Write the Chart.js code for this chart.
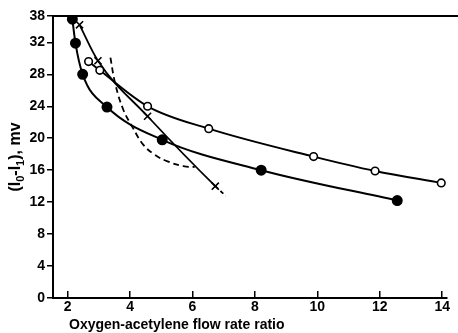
<!DOCTYPE html>
<html>
<head>
<meta charset="utf-8">
<title>Flow rate ratio</title>
<script src="https://cdn.jsdelivr.net/npm/chart.js@4.4.1/dist/chart.umd.min.js"></script>
<style>
  html, body { margin: 0; padding: 0; background: #fff; }
  canvas { display: block; }
</style>
</head>
<body>
<canvas id="myChart" width="458" height="333"></canvas>
<script>
// filled circles
const filledX = [2.15, 2.25, 2.48, 3.26, 5.03, 8.2, 12.56];
const filledY = [34.9, 31.9, 28.0, 23.9, 19.8, 16.0, 12.2];

// open circles
const openX = [2.67, 3.03, 4.56, 6.52, 9.88, 11.85, 13.97];
const openY = [29.6, 28.5, 24.0, 21.2, 17.7, 15.9, 14.4];

// crosses (last point is the end of the dashed tail, no marker)
const crossX = [2.38, 2.97, 4.56, 6.73, 7.06];
const crossY = [34.2, 29.7, 22.75, 14.0, 12.8];

// dashed curve, no markers
const dashX = [3.37, 3.52, 3.78, 4.09, 4.42, 4.8, 5.2, 5.71, 6.07];
const dashY = [30.1, 26.9, 23.6, 21.3, 19.2, 17.9, 17.1, 16.5, 16.4];

const xTickValues = [2, 4, 6, 8, 10, 12, 14];
const yTickValues = [0, 4, 8, 12, 16, 20, 24, 28, 32, 35.3];
const yTickLabels = ['0', '4', '8', '12', '16', '20', '24', '28', '32', '38'];

const xTitle = 'Oxygen-acetylene flow rate ratio';
// y title pieces: [text, subscript?]
const yTitleParts = [['(I', false], ['0', true], ['-I', false], ['1', true], ['), mv', false]];

const pts = (xs, ys) => xs.map((x, i) => ({x: x, y: ys[i]}));

const fontFamily = '"Liberation Sans", Arial, sans-serif';
const tickFont = {family: fontFamily, size: 14, weight: 'bold'};

// top frame line + both axis titles
const frameAndTitles = {
  id: 'frameAndTitles',
  beforeDatasetsDraw(chart) {
    const {ctx, chartArea} = chart;
    ctx.save();
    ctx.strokeStyle = '#000';
    ctx.lineWidth = 2;
    ctx.beginPath();
    ctx.moveTo(chartArea.left, chartArea.top);
    ctx.lineTo(chart.width, chartArea.top);
    ctx.stroke();
    ctx.restore();
  },
  afterDraw(chart) {
    const {ctx, chartArea} = chart;
    ctx.save();
    ctx.fillStyle = '#000';
    ctx.textBaseline = 'alphabetic';
    ctx.textAlign = 'left';

    ctx.font = 'bold 14px ' + fontFamily;
    ctx.fillText(xTitle, chartArea.left + 16, chart.height - 4);

    // rotated y title with subscripts
    const big = 'bold 16px ' + fontFamily;
    const small = 'bold 11px ' + fontFamily;
    let total = 0;
    yTitleParts.forEach(([t, sub]) => {
      ctx.font = sub ? small : big;
      total += ctx.measureText(t).width;
    });
    ctx.translate(20, (chartArea.top + chartArea.bottom) / 2);
    ctx.rotate(-Math.PI / 2);
    let x = -total / 2;
    yTitleParts.forEach(([t, sub]) => {
      ctx.font = sub ? small : big;
      ctx.fillText(t, x, sub ? 4 : 0);
      x += ctx.measureText(t).width;
    });
    ctx.restore();
  }
};

const myChart = document.getElementById('myChart');

let lineChart = new Chart(myChart, {
  type: 'line',
  data: {
    datasets: [
      {
        data: pts(filledX, filledY),
        borderColor: '#000',
        borderWidth: 2,
        pointStyle: 'circle',
        pointRadius: 4.5,
        pointBackgroundColor: '#000',
        pointBorderColor: '#000',
        cubicInterpolationMode: 'monotone'
      },
      {
        data: pts(openX, openY),
        borderColor: '#000',
        borderWidth: 2,
        pointStyle: 'circle',
        pointRadius: 3.8,
        pointBackgroundColor: '#fff',
        pointBorderColor: '#000',
        pointBorderWidth: 1.6,
        cubicInterpolationMode: 'monotone'
      },
      {
        data: pts(crossX, crossY),
        borderColor: '#000',
        borderWidth: 1.8,
        pointStyle: 'crossRot',
        pointRadius: [5, 5, 5, 5, 0],
        pointBorderColor: '#000',
        pointBorderWidth: 1.6,
        cubicInterpolationMode: 'monotone',
        segment: {
          borderDash: ctx => ctx.p1DataIndex === crossX.length - 1 ? [4, 3] : undefined
        }
      },
      {
        data: pts(dashX, dashY),
        borderColor: '#000',
        borderWidth: 1.8,
        borderDash: [6, 4],
        pointRadius: 0,
        tension: 0.4
      }
    ]
  },
  options: {
    responsive: false,
    animation: false,
    layout: {
      autoPadding: false,
      padding: {top: 16, right: 2, left: 0, bottom: 0}
    },
    plugins: {
      legend: {display: false},
      tooltip: {enabled: false}
    },
    scales: {
      x: {
        type: 'linear',
        min: 1.53,
        max: 14.13,
        afterBuildTicks: s => { s.ticks = xTickValues.map(v => ({value: v})); },
        afterFit: s => { s.height = 35; },
        border: {color: '#000', width: 2},
        grid: {drawOnChartArea: false, color: '#000', lineWidth: 1.5, tickLength: -7},
        ticks: {color: '#000', font: tickFont, padding: 8, maxRotation: 0, autoSkip: false}
      },
      y: {
        type: 'linear',
        min: 0,
        max: 35.3,
        afterBuildTicks: s => { s.ticks = yTickValues.map(v => ({value: v})); },
        afterFit: s => { s.width = 53; },
        border: {color: '#000', width: 2},
        grid: {drawOnChartArea: false, color: '#000', lineWidth: 1.5, tickLength: 6},
        ticks: {
          color: '#000',
          font: tickFont,
          padding: 2,
          autoSkip: false,
          callback: (value, index) => yTickLabels[index]
        }
      }
    }
  },
  plugins: [frameAndTitles]
});
</script>
</body>
</html>
